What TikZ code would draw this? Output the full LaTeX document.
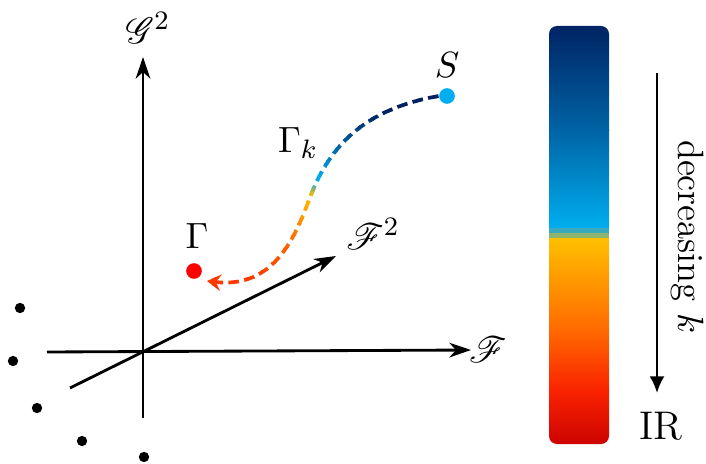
\documentclass[tikz,border=0pt]{standalone}
\usepackage{mathrsfs}
\usetikzlibrary{arrows.meta}
\definecolor{cnavy}{RGB}{0,32,96}
\definecolor{cmid}{RGB}{0,100,165}
\definecolor{ccyan}{RGB}{0,174,239}
\definecolor{cbandA}{RGB}{60,170,190}
\definecolor{cbandB}{RGB}{140,180,110}
\definecolor{cyel}{RGB}{255,192,0}
\definecolor{corange}{RGB}{255,105,0}
\definecolor{cred}{RGB}{250,35,0}
\definecolor{cdred}{RGB}{200,0,0}
\definecolor{cdot}{RGB}{0,174,239}
\definecolor{cgam}{RGB}{255,0,0}
\newcommand\flowcurve[1]{\draw[flowline,color=#1] (S.west) .. controls (390,105) and (340,125) .. (mid) .. controls (300,221) and (282,290) .. (fend);}
\begin{document}
\begin{tikzpicture}[x=0.3pt,y=-0.3pt,
  axis/.style={line width=0.85pt,-{Stealth[length=6.5pt,width=4.4pt,inset=2pt]}},
  blackdot/.style={circle,fill=black,inner sep=0pt,minimum size=3.1pt},
  flowline/.style={line width=1.1pt,dash pattern=on 3.2pt off 1.6pt,-{Stealth[length=4.2pt,width=5pt,inset=1.6pt]}},
  lab/.style={inner sep=0pt,font=\fontsize{11}{13}\selectfont}]
\useasboundingbox (0,0) rectangle (706,464);
% axes
\coordinate (O) at (143,351);
\coordinate (vbot) at (143,418);
\coordinate (vtop) at (143,57);
\coordinate (hl) at (47,352);
\coordinate (hr) at (471,350);
\coordinate (dl) at (70,388);
\coordinate (dr) at (336,256);
\draw[axis] (vbot) -- (vtop);
\draw[axis] (hl) -- (hr);
\draw[axis] (dl) -- (dr);
\node[lab] (g2) at (148,28) {$\mathscr{G}^2$};
\node[lab] (f) at (488,350) {$\mathscr{F}$};
\node[lab] (f2) at (373,234) {$\mathscr{F}^2$};
% dots
\node[blackdot] (d1) at (20,308) {};
\node[blackdot] (d2) at (13,361) {};
\node[blackdot] (d3) at (37,408) {};
\node[blackdot] (d4) at (82,441) {};
\node[blackdot] (d5) at (144,457) {};
% points
\node[circle,fill=cdot,inner sep=0pt,minimum size=4.7pt] (S) at (447,96) {};
\node[circle,fill=cgam,inner sep=0pt,minimum size=4.7pt] (G) at (194,271) {};
\node[lab] (Slab) at (447,65) {$S$};
\node[lab] (Glab) at (197,236) {$\Gamma$};
\node[lab] (Gk) at (298,143) {$\Gamma_k$};
\coordinate (mid) at (313,190);
\coordinate (fend) at (207,281);
% coloured dashed flow
\foreach \ya/\yb/\ca/\cb in {0/112/cnavy/cnavy,112/148/cnavy/cmid,148/180/cmid/ccyan,180/190/ccyan/cbandB,190/196/cbandB/cyel,196/240/cyel/corange,240/300/corange/cred}{
  \foreach \i in {0,...,7}{
    \pgfmathsetmacro\yl{\ya+(\yb-\ya)*\i/8}
    \pgfmathsetmacro\yh{\ya+(\yb-\ya)*(\i+1)/8+0.6}
    \pgfmathtruncatemacro\p{100-(\i+0.5)*12.5}
    \begin{scope}
      \colorlet{tmpc}{\ca!\p!\cb}
      \clip (150,\yl) rectangle (460,\yh);
      \flowcurve{tmpc}
    \end{scope}
  }
}
% colour bar
\begin{scope}
  \clip[rounded corners=2.4pt] (549,26) rectangle (609,444);
  \shade[top color=cnavy,bottom color=cmid] (549,20) rectangle (609,130.5);
  \shade[top color=cmid,bottom color=ccyan] (549,130) rectangle (609,228.5);
  \fill[cbandA] (549,228) rectangle (609,233.5);
  \fill[cbandB] (549,233) rectangle (609,238.5);
  \shade[top color=cyel,bottom color=corange] (549,238) rectangle (609,330.5);
  \shade[top color=corange,bottom color=cred] (549,330) rectangle (609,390.5);
  \shade[top color=cred,bottom color=cdred] (549,390) rectangle (609,450);
\end{scope}
\coordinate (atop) at (657,73);
\coordinate (abot) at (657,393);
\draw[line width=0.75pt,-{Latex[length=5pt,width=4.5pt]}] (atop) -- (abot);
\node[lab,rotate=-90] (dec) at (687,237) {decreasing $k$};
\node[inner sep=0pt] (ir) at (661,426) {\large IR};
\end{tikzpicture}
\end{document}
